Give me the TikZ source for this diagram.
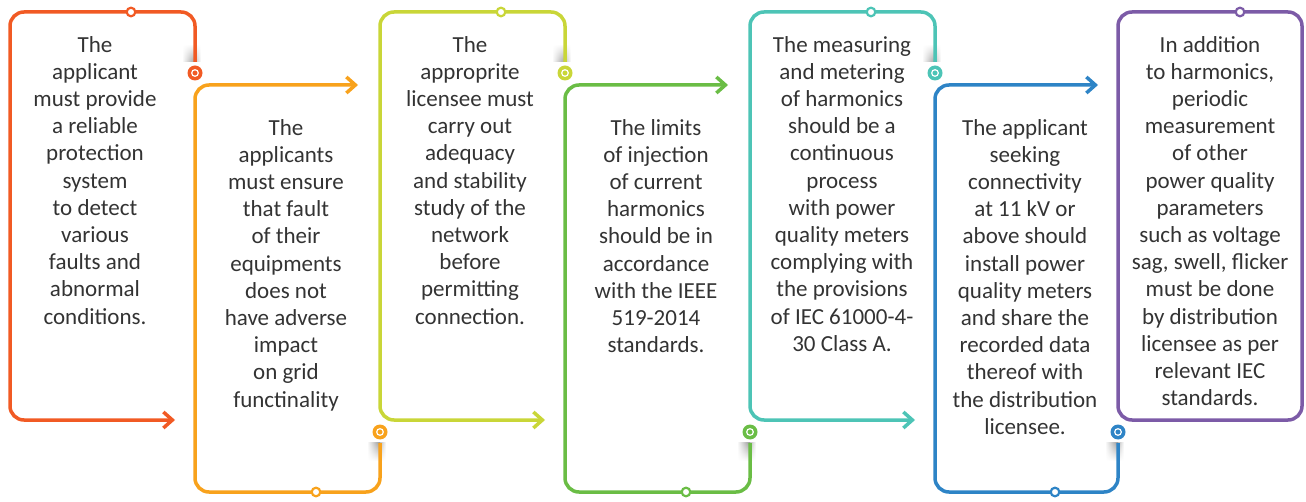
\documentclass[tikz,border=0pt]{standalone}
\usepackage{fontspec}
\setmainfont{Carlito}
\usetikzlibrary{arrows.meta,fadings}
\definecolor{redor}{HTML}{F15A24}
\definecolor{amber}{HTML}{F8A21C}
\definecolor{lime}{HTML}{C9D638}
\definecolor{leaf}{HTML}{6ABD45}
\definecolor{teal}{HTML}{4DC4B6}
\definecolor{ocean}{HTML}{2E84C6}
\definecolor{plum}{HTML}{7C5BA7}
\definecolor{ink}{HTML}{333333}

\begin{document}
\begin{tikzpicture}[x=1pt,y=-1pt,
    frame/.style={line width=3.5pt, rounded corners=14pt},
    flow/.style={frame, -{Straight Barb[length=9pt,width=16pt,line width=3.5pt]}},
    hole/.style={line width=2.2pt, fill=white},
    txtbox/.style={anchor=north, align=center, inner sep=0pt, text=ink,
      font=\fontsize{23}{27.2}\selectfont}]
  \useasboundingbox (0,0) rectangle (1306,502);

  \foreach \l/\r/\c in {10/195/redor, 380/565/lime, 750/935/teal}{
    \shade[left color=white, right color=black!40, path fading=north] (\r-13,44) rectangle (\r,62);
    \shade[left color=black!25, right color=white, path fading=north] (\r,44) rectangle (\r+6,62);
    \draw[flow, \c] (\r,62) -- (\r,12) -- (\l,12) -- (\l,420) -- (\l+165,420);
    \draw[hole, draw=\c] ({(\l+\r)/2+28.5},12) circle (4.3);
    \fill[\c] (\r,73) circle (7.5);
    \draw[white, line width=1.2pt] (\r,73) circle (3.3);
  }
  \foreach \l/\r/\c in {195/380/amber, 565/750/leaf, 935/1118/ocean}{
    \shade[left color=white, right color=black!40, path fading=south] (\r-13,443) rectangle (\r,461);
    \shade[left color=black!25, right color=white, path fading=south] (\r,443) rectangle (\r+6,461);
    \draw[flow, \c] (\r,443) -- (\r,492) -- (\l,492) -- (\l,85) -- (\l+163,85);
    \draw[hole, draw=\c] ({(\l+\r)/2+28.5},492) circle (4.3);
    \fill[\c] (\r,432) circle (7.5);
    \draw[white, line width=1.2pt] (\r,432) circle (3.3);
  }
  \draw[frame, plum] (1118,12) rectangle (1302,420);
  \draw[hole, draw=plum] (1240,12) circle (4.3);

  \node[txtbox] (t1) at (95,36) {The\\applicant\\must provide\\a reliable\\protection\\system\\to detect\\various\\faults and\\abnormal\\conditions.};
  \node[txtbox] (t2) at (286,119) {The\\applicants\\must ensure\\that fault\\of their\\equipments\\does not\\have adverse\\impact\\on grid\\functinality};
  \node[txtbox] (t3) at (470,36) {The\\approprite\\licensee must\\carry out\\adequacy\\and stability\\study of the\\network\\before\\permitting\\connection.};
  \node[txtbox] (t4) at (656,119) {The limits\\of injection\\of current\\harmonics\\should be in\\accordance\\with the IEEE\\519-2014\\standards.};
  \node[txtbox] (t5) at (842,36) {The measuring\\and metering\\of harmonics\\should be a\\continuous\\process\\with power\\quality meters\\complying with\\the provisions\\of IEC 61000-4-\\30 Class A.};
  \node[txtbox] (t6) at (1025,119) {The applicant\\seeking\\connectivity\\at 11 kV or\\above should\\install power\\quality meters\\and share the\\recorded data\\thereof with\\the distribution\\licensee.};
  \node[txtbox] (t7) at (1210,36) {In addition\\to harmonics,\\periodic\\measurement\\of other\\power quality\\parameters\\such as voltage\\sag, swell, flicker\\must be done\\by distribution\\licensee as per\\relevant IEC\\standards.};
\end{tikzpicture}
\end{document}
